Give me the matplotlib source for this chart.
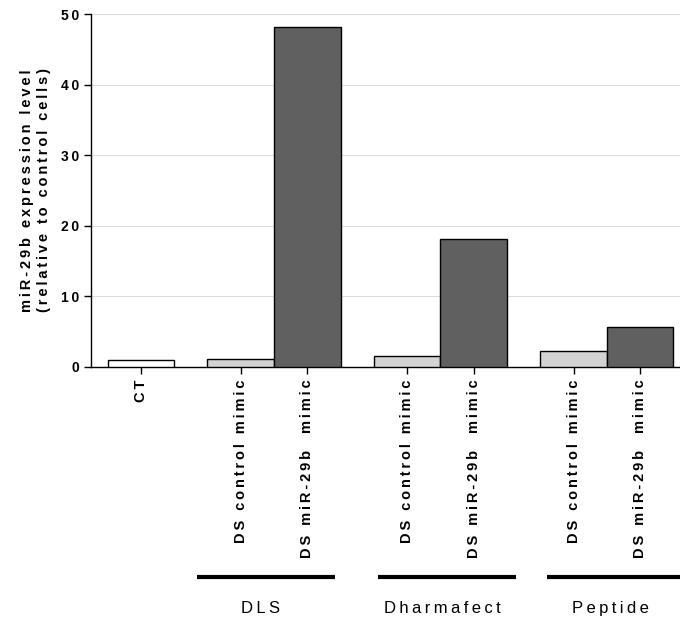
import numpy as np
import matplotlib
matplotlib.use("Agg")
import matplotlib.pyplot as plt

plt.rcParams['font.family'] = ['Liberation Sans', 'DejaVu Sans']

labels = ["CT", "DS control mimic", "DS miR-29b  mimic",
          "DS control mimic", "DS miR-29b  mimic",
          "DS control mimic", "DS miR-29b  mimic"]
positions = [0, 1.5, 2.5, 4, 5, 6.5, 7.5]
values = [1.0, 1.2, 48.2, 1.5, 18.2, 2.2, 5.6]
colors = ["white", "#d3d3d3", "#606060", "#d3d3d3", "#606060", "#d3d3d3", "#606060"]

groups = ["DLS", "Dharmafect", "Peptide"]
group_spans = [(0.84, 2.91), (3.56, 5.64), (6.1, 8.2)]
group_text_x = [1.8, 4.53, 7.05]


def spaced(s, sp="\u2009"):
    return sp.join(s)


fig = plt.figure(figsize=(6.8, 6.21), dpi=100)
ax = fig.add_axes([91/680, 1-367/621, 1-91/680, (367-14)/621])

ax.bar(positions, values, width=1.0, color=colors, edgecolor="black", linewidth=1.0, zorder=3)

ax.set_xlim(-0.75, 8.1)
ax.set_ylim(0, 50)
ax.set_yticks([0, 10, 20, 30, 40, 50])
ax.set_yticklabels([spaced(str(v)) for v in [0, 10, 20, 30, 40, 50]], fontweight="bold", fontsize=10)
ax.yaxis.grid(True, color="#dddddd", linewidth=0.8, zorder=0)
ax.set_axisbelow(True)

ax.set_xticks(positions)
ax.set_xticklabels([spaced(l) for l in labels], rotation=90, fontweight="bold", fontsize=10.5, va="top")
ax.tick_params(axis="x", length=5, width=1, pad=4)
ax.tick_params(axis="y", length=5, width=1)

for s in ["top", "right"]:
    ax.spines[s].set_visible(False)
ax.spines["left"].set_linewidth(1)
ax.spines["bottom"].set_linewidth(1)

ax.set_ylabel(spaced("miR-29b expression level") + "\n" + spaced("(relative to control cells)"),
              fontweight="bold", fontsize=10.5, labelpad=7, linespacing=1.3)

# group bars and names
trans = ax.get_xaxis_transform()
for name, (a, b), tx in zip(groups, group_spans, group_text_x):
    ax.plot([a, b], [-0.595, -0.595], color="black", linewidth=3,
            transform=trans, clip_on=False, solid_capstyle="butt")
    ax.text(tx, -0.683, spaced(name), transform=trans, ha="center", va="center", fontsize=12)

fig.savefig("out.png", dpi=100)
